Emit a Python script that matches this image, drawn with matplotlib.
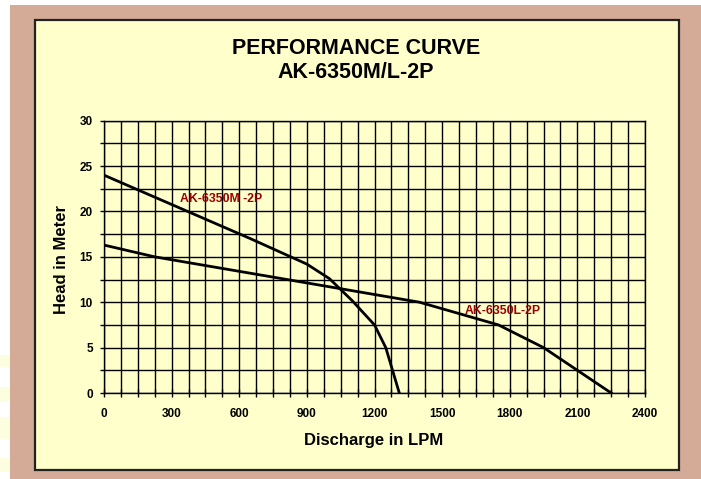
import matplotlib.pyplot as plt
from matplotlib.patches import Rectangle
from matplotlib.ticker import MultipleLocator

# discharge (LPM) / head (m)
m_flow = [0, 650, 900, 1000, 1100, 1200, 1250, 1310]
m_head = [24, 17, 14.2, 12.6, 10.2, 7.5, 5, 0]
l_flow = [0, 225, 1400, 1750, 1950, 2100, 2250]
l_head = [16.3, 15, 10, 7.5, 5, 2.5, 0]

W, H = 701, 479
fig = plt.figure(figsize=(W / 100, H / 100), dpi=100, facecolor='white')
plt.rcParams['font.family'] = ['Liberation Sans', 'DejaVu Sans']

# tan frame and pale yellow panel
fig.patches.append(Rectangle((10 / W, 0), 1 - 10 / W, 1 - 5 / H, transform=fig.transFigure,
                             facecolor='#d4ab96', edgecolor='none', zorder=-3))
for y0, y1 in [(355, 367), (387, 402), (417, 439), (458, 472)]:
    fig.patches.append(Rectangle((0, 1 - y1 / H), 10 / W, (y1 - y0) / H, transform=fig.transFigure,
                                 facecolor='#fdfde0', edgecolor='none', zorder=-3))
fig.patches.append(Rectangle((35 / W, 1 - 470 / H), (679 - 35) / W, (470 - 20) / H,
                             transform=fig.transFigure, facecolor='#ffffcc',
                             edgecolor='#222222', lw=1.6, zorder=-2))

ax = fig.add_axes([104 / W, 1 - 393 / H, (645 - 104) / W, (393 - 120.7) / H])
ax.set_facecolor('#ffffcc')
ax.set_xlim(0, 2400)
ax.set_ylim(0, 30)

ax.xaxis.set_major_locator(MultipleLocator(300))
ax.xaxis.set_minor_locator(MultipleLocator(75))
ax.yaxis.set_major_locator(MultipleLocator(5))
ax.yaxis.set_minor_locator(MultipleLocator(2.5))
ax.grid(True, which='both', color='black', lw=1)
ax.set_axisbelow(True)
ax.tick_params(which='both', direction='out', length=3, width=1, color='black')
ax.tick_params(axis='x', which='both', direction='inout', length=6)
ax.tick_params(labelsize=8.5)
ax.tick_params(axis='x', pad=8)
ax.tick_params(axis='y', pad=5)
for lbl in ax.get_xticklabels() + ax.get_yticklabels():
    lbl.set_fontweight('bold')
for s in ax.spines.values():
    s.set_color('black')
    s.set_linewidth(1)

ax.plot(m_flow, m_head, c='black', lw=2, zorder=3)
ax.plot(l_flow, l_head, c='black', lw=2, zorder=3)

ax.text(337, 21.4, 'AK-6350M -2P', color='#990000', fontsize=8.8, fontweight='bold',
        va='center', ha='left', zorder=4)
ax.text(1602, 9.04, 'AK-6350L-2P', color='#990000', fontsize=8.8, fontweight='bold',
        va='center', ha='left', zorder=4)

fig.text(356 / W, 1 - 48 / H, 'PERFORMANCE CURVE', ha='center', va='center',
         fontsize=15.5, fontweight='bold')
fig.text(356 / W, 1 - 73 / H, 'AK-6350M/L-2P', ha='center', va='center',
         fontsize=15.5, fontweight='bold')
fig.text(374 / W, 1 - 441 / H, 'Discharge in LPM', ha='center', va='center',
         fontsize=12, fontweight='bold')
fig.text(61.5 / W, 1 - 259 / H, 'Head in Meter', ha='center', va='center',
         fontsize=12, fontweight='bold', rotation=90)

fig.savefig('out.png', dpi=100, facecolor='white')
